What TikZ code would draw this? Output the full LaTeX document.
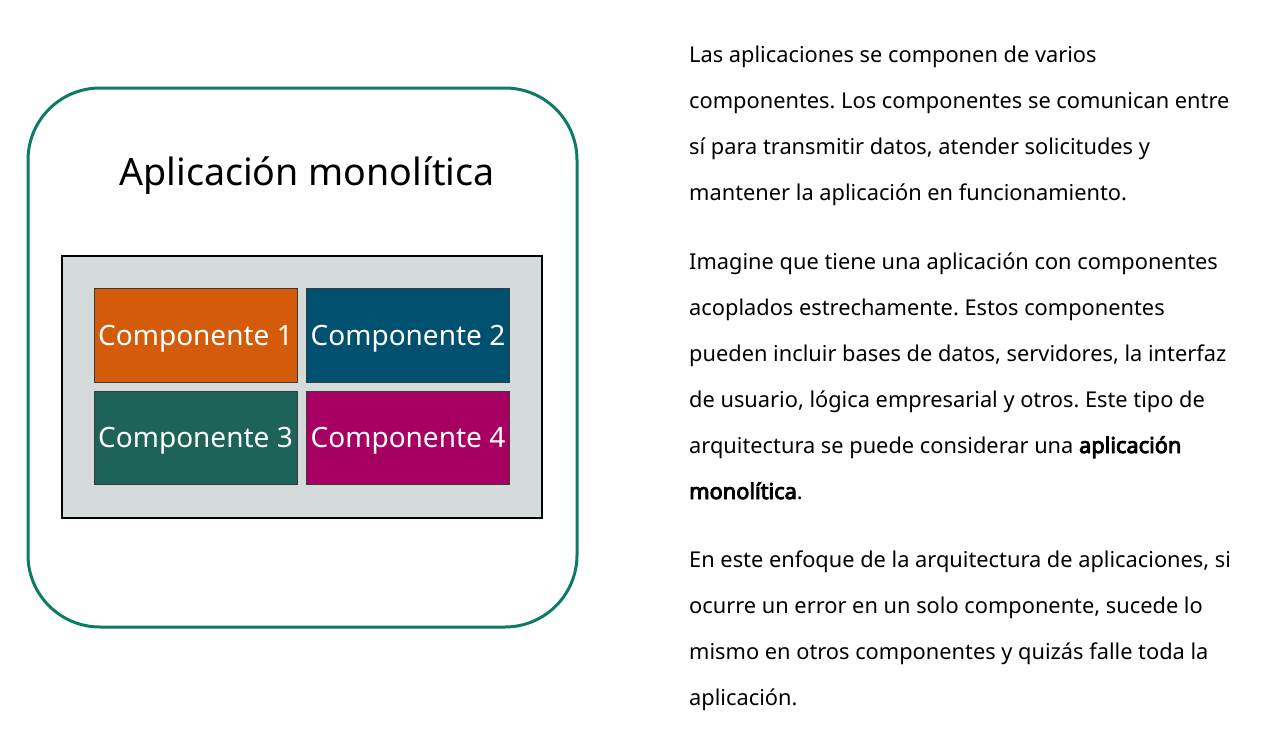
\documentclass[tikz,border=0pt]{standalone}
\usepackage{fontspec}
\setmainfont{Noto Sans}[BoldFont={Noto Sans}, BoldFeatures={FakeBold=4}]
\frenchspacing
\definecolor{frame}{HTML}{0E7B67}
\definecolor{panel}{HTML}{D5DBDB}
\definecolor{cone}{HTML}{D45B0A}
\definecolor{ctwo}{HTML}{00506F}
\definecolor{cthree}{HTML}{1D635A}
\definecolor{cfour}{HTML}{A80062}
\definecolor{cedge}{HTML}{3A3A3A}
\tikzset{
  comp/.style={draw=cedge, line width=1pt, minimum width=203pt, minimum height=94pt, inner sep=0pt, text depth=0pt, text=white, font=\fontsize{28}{32}\selectfont},
  para/.style={anchor=base west, inner sep=0pt, font=\fontsize{21.8}{26}\selectfont, text=black}
}
\begin{document}
\begin{tikzpicture}[x=1pt,y=-1pt]
\useasboundingbox (0,0) rectangle (1265,747);
\node[draw=frame, line width=3pt, rounded corners=72pt, minimum width=549pt, minimum height=539pt, inner sep=0pt] (outer) at (302.5,357.5) {};
\node[font=\fontsize{37.6}{42}\selectfont, anchor=base] (title) at (307,185) {Aplicación monolítica};
\node[draw=black, fill=panel, line width=2.5pt, minimum width=480pt, minimum height=262pt, inner sep=0pt] (panel) at (302,387) {};
\node[comp, fill=cone] (c1) at (195.5,335) {Componente 1};
\node[comp, fill=ctwo] (c2) at (408,335) {Componente 2};
\node[comp, fill=cthree, minimum height=93pt] (c3) at (195.5,437.5) {Componente 3};
\node[comp, fill=cfour, minimum height=93pt] (c4) at (408,437.5) {Componente 4};
\node[para] (p1) at (689,62) {Las aplicaciones se componen de varios};
\node[para] (p2) at (689,108) {componentes. Los componentes se comunican entre};
\node[para] (p3) at (689,154) {sí para transmitir datos, atender solicitudes y};
\node[para] (p4) at (689,200) {mantener la aplicación en funcionamiento.};
\node[para] (q1) at (689,269) {Imagine que tiene una aplicación con componentes};
\node[para] (q2) at (689,315) {acoplados estrechamente. Estos componentes};
\node[para] (q3) at (689,361) {pueden incluir bases de datos, servidores, la interfaz};
\node[para] (q4) at (689,407) {de usuario, lógica empresarial y otros. Este tipo de};
\node[para] (q5) at (689,453) {arquitectura se puede considerar una \textbf{aplicación}};
\node[para] (q6) at (689,499) {\textbf{monolítica}.};
\node[para] (r1) at (689,567) {En este enfoque de la arquitectura de aplicaciones, si};
\node[para] (r2) at (689,613) {ocurre un error en un solo componente, sucede lo};
\node[para] (r3) at (689,659) {mismo en otros componentes y quizás falle toda la};
\node[para] (r4) at (689,705) {aplicación.};
\end{tikzpicture}
\end{document}
